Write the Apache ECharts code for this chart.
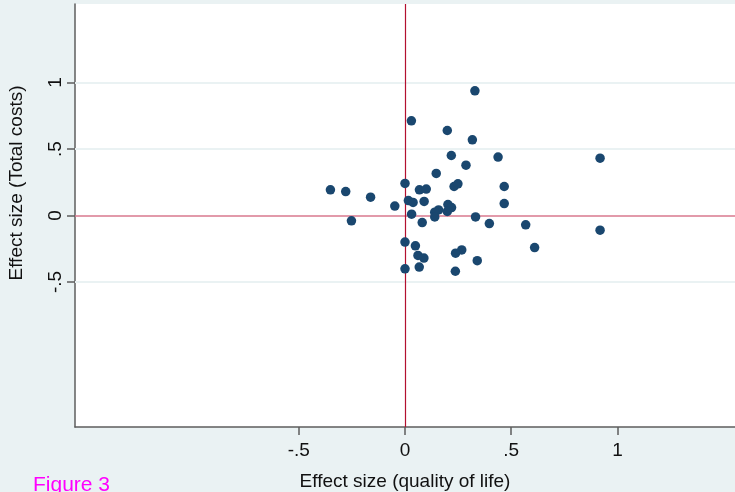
<!DOCTYPE html>
<html>
<head>
<meta charset="utf-8">
<script src="https://cdn.jsdelivr.net/npm/echarts@6/dist/echarts.min.js"></script>
<style>
  html, body { margin: 0; padding: 0; background: #eaf2f3; }
  #chart { width: 735px; height: 492px; }
</style>
</head>
<body>
<div id="chart"></div>
<script>
  "use strict";
  // effect sizes: quality of life (x) vs total costs (y)
  var qolEffect = [
    0.329, 0.030, 0.199, 0.317, 0.218, 0.438, 0.918, 0.287, 0.147, 0.000,
    -0.351, -0.279, 0.068, 0.100, 0.231, 0.249, 0.467, -0.162, 0.016, 0.038,
    0.090, -0.048, 0.467, 0.202, 0.219, 0.158, 0.140, 0.199, 0.031, 0.140,
    0.332, -0.252, 0.081, 0.397, 0.568, 0.918, 0.000, 0.049, 0.610, 0.267,
    0.238, 0.061, 0.089, 0.340, 0.000, 0.067, 0.237
  ];
  var costEffect = [
    0.937, 0.712, 0.639, 0.569, 0.451, 0.439, 0.431, 0.378, 0.316, 0.241,
    0.193, 0.180, 0.193, 0.199, 0.218, 0.238, 0.218, 0.138, 0.112, 0.098,
    0.106, 0.071, 0.090, 0.082, 0.060, 0.042, 0.025, 0.030, 0.010, -0.011,
    -0.011, -0.040, -0.053, -0.061, -0.070, -0.110, -0.200, -0.228, -0.241, -0.259,
    -0.283, -0.300, -0.320, -0.340, -0.401, -0.388, -0.419
  ];
  var xTicks = [-0.5, 0, 0.5, 1];
  var yTicks = [-0.5, 0, 0.5, 1];
  var yGrid = [1, 0.5, -0.5];

  var points = qolEffect.map(function (x, i) { return [x, costEffect[i]]; });

  function stataNum(v) {
    if (v === 0) return '0';
    var s = String(v);
    return s.replace(/^(-?)0\./, '$1.');
  }

  var font = '"Liberation Sans", Arial, sans-serif';

  var gridLines = yGrid.map(function (v) {
    return { yAxis: v, lineStyle: { color: '#eaf2f3', width: 2, type: 'solid' } };
  });

  var option = {
    backgroundColor: '#eaf2f3',
    animation: false,
    grid: {
      left: 75, right: 0, top: 4, bottom: 65,
      outerBoundsMode: 'none', containLabel: false,
      show: true, backgroundColor: '#ffffff', borderWidth: 0
    },
    xAxis: {
      type: 'value',
      min: -1.553,
      max: 1.553,
      name: 'Effect size (quality of life)',
      nameLocation: 'middle',
      nameGap: 45,
      nameTextStyle: { fontFamily: font, fontSize: 19, color: '#111' },
      axisLine: { show: true, onZero: false, lineStyle: { color: '#5e5e5e', width: 1.5 } },
      axisTick: { show: true, length: 8, customValues: xTicks, lineStyle: { color: '#5e5e5e', width: 1.5 } },
      axisLabel: { customValues: xTicks, margin: 14, fontFamily: font, fontSize: 19, color: '#111', formatter: stataNum },
      splitLine: { show: false }
    },
    yAxis: {
      type: 'value',
      min: -1.59,
      max: 1.59,
      axisLine: { show: true, onZero: false, lineStyle: { color: '#5e5e5e', width: 1.5 } },
      axisTick: { show: true, length: 8, customValues: yTicks, lineStyle: { color: '#5e5e5e', width: 1.5 } },
      axisLabel: { customValues: yTicks, rotate: 90, margin: 10, fontFamily: font, fontSize: 19, color: '#111', formatter: stataNum },
      splitLine: { show: false }
    },
    graphic: [
      {
        type: 'text', x: 17, y: 183, rotation: Math.PI / 2,
        style: { text: 'Effect size (Total costs)', font: '19px ' + font, fill: '#111', align: 'center', verticalAlign: 'middle' }
      },
      {
        type: 'text', left: 33, top: 475,
        style: { text: 'Figure 3', font: '21px ' + font, fill: '#ff00ff' }
      }
    ],
    series: [{
      type: 'scatter',
      data: points,
      symbolSize: 9.5,
      itemStyle: { color: '#1a476f', opacity: 1 },
      z: 5,
      markLine: {
        silent: true,
        symbol: 'none',
        label: { show: false },
        animation: false,
        data: gridLines.concat([
          { yAxis: 0, lineStyle: { color: '#d9788e', width: 1.5, type: 'solid' } },
          { xAxis: 0, lineStyle: { color: '#b3102f', width: 1.2, type: 'solid' } }
        ])
      }
    }]
  };

  var chart = echarts.init(document.getElementById('chart'));
  chart.setOption(option);
</script>
</body>
</html>
